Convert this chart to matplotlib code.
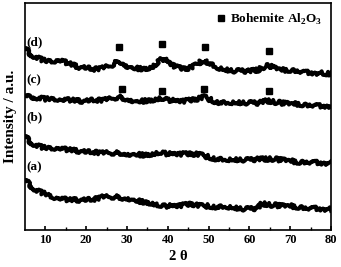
import matplotlib
matplotlib.use("Agg")
import matplotlib.pyplot as plt

plt.rcParams['font.family'] = ['Liberation Serif', 'DejaVu Serif']
plt.rcParams['font.weight'] = 'bold'
plt.rcParams['mathtext.fontset'] = 'custom'
plt.rcParams['mathtext.rm'] = 'Liberation Serif:bold'
plt.rcParams['mathtext.bf'] = 'Liberation Serif:bold'

# 2 theta positions (deg)
two_theta = [5, 6, 7, 8, 10, 12, 13, 14, 16, 18,
             20, 22, 24, 26, 27, 28, 29, 30, 32, 34,
             36, 37, 38, 39, 40, 42, 44, 46, 47, 48,
             49, 50, 52, 54, 56, 58, 60, 62, 63, 64,
             65, 66, 68, 70, 72, 74, 76, 78, 80]

# stacked intensities (a.u., offsets included)
curve_d = [182, 177, 174, 172, 169, 169, 170, 169, 166, 163,
           162, 161, 162, 164, 167, 169, 167, 164, 162, 161,
           163, 166, 170, 171, 168, 163, 161, 163, 165, 168,
           170, 167, 162, 160, 159, 159, 159, 160, 162, 164,
           164, 162, 160, 160, 159, 158, 157, 157, 156]
curve_c = [134, 133, 133, 132, 131, 131, 131, 130, 130, 129,
           129, 130, 130, 131, 132, 133, 132, 131, 129, 129,
           130, 131, 132, 132, 130, 129, 129, 130, 131, 132,
           133, 131, 128, 127, 127, 127, 127, 127, 128, 129,
           129, 128, 127, 126, 126, 125, 125, 124, 124]
curve_b = [94, 89, 86, 84, 82, 82, 82, 81, 80, 79,
           78, 78, 77, 77, 77, 77, 77, 76, 76, 75,
           76, 77, 78, 77, 76, 76, 76, 76, 76, 75,
           74, 73, 71, 70, 70, 70, 70, 71, 71, 71,
           71, 71, 70, 69, 68, 68, 68, 67, 67]
curve_a = [50, 46, 42, 39, 36, 33, 32, 31, 30, 30,
           30, 31, 33, 33, 33, 33, 32, 32, 30, 28,
           27, 26, 25, 24, 24, 24, 25, 26, 25, 24,
           24, 24, 23, 23, 22, 21, 21, 22, 26, 26,
           25, 25, 24, 24, 23, 22, 22, 21, 21]

# bohemite reflection markers
peaks_d_x = [28.1, 38.6, 49.2, 64.9]
peaks_d_y = [183, 186, 183, 179]
peaks_c_x = [28.8, 38.5, 48.9, 64.8]
peaks_c_y = [141, 139, 141, 139]

labels = ['(d)', '(c)', '(b)', '(a)']
label_y = [188, 150, 113, 63]

fig = plt.figure(figsize=(3.41, 2.67), dpi=100)
ax = fig.add_axes([0.0733, 0.1386, 0.8974, 0.8502])

for curve in [curve_d, curve_c, curve_b, curve_a]:
    line, = ax.plot(two_theta, curve, color='black', lw=2.8)
    line.set_sketch_params(scale=2.0, length=0.35, randomness=1.5)

ax.plot(peaks_d_x, peaks_d_y, 's', color='black', ms=3.8, ls='none',
        label='Bohemite Al$_2$O$_3$')
ax.plot(peaks_c_x, peaks_c_y, 's', color='black', ms=3.8, ls='none')

for lab, ly in zip(labels, label_y):
    ax.text(5.4, ly, lab, fontsize=9.5, fontweight='bold', va='center')

leg = ax.legend(loc='upper right', frameon=False, fontsize=9.5,
                handlelength=0.6, handletextpad=0.4, borderaxespad=0.25)
for t in leg.get_texts():
    t.set_fontweight('bold')

ax.set_xlim(5, 80)
ax.set_ylim(0, 227)
ax.set_xticks([10, 20, 30, 40, 50, 60, 70, 80])
ax.set_xticks([15, 25, 35, 45, 55, 65, 75], minor=True)
ax.set_yticks([])
ax.tick_params(axis='x', which='major', direction='in', length=3, width=1.2,
               labelsize=9, pad=3)
ax.tick_params(axis='x', which='minor', direction='in', length=2, width=1.0)
for lbl in ax.get_xticklabels():
    lbl.set_fontweight('bold')
for sp in ax.spines.values():
    sp.set_linewidth(1.2)

ax.set_xlabel('2 θ', fontsize=10.5, fontweight='bold', labelpad=3)
ax.set_ylabel('Intensity / a.u.', fontsize=11, fontweight='bold', labelpad=6)

fig.savefig('out.png', dpi=100)
